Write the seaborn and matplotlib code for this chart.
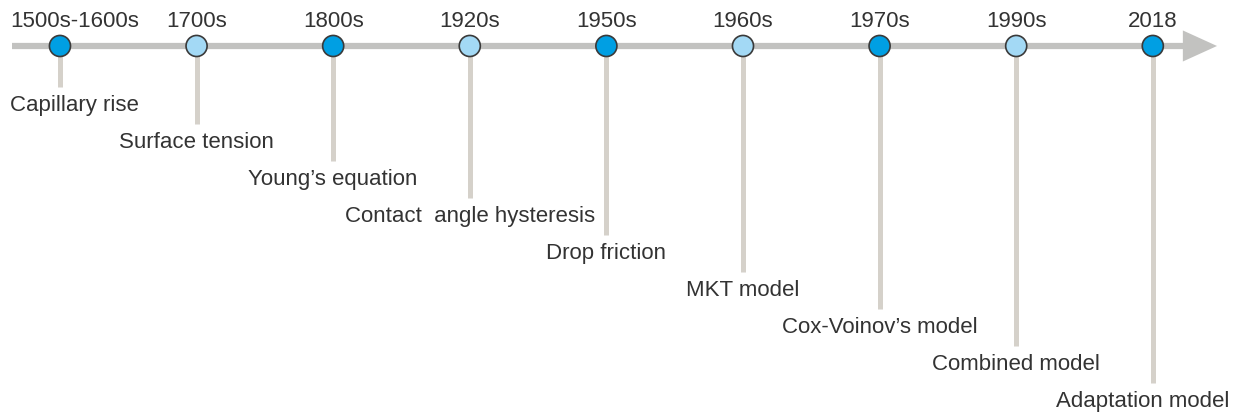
import numpy as np
import pandas as pd
import matplotlib
matplotlib.use("Agg")
import matplotlib.pyplot as plt
import matplotlib.transforms as mtransforms
import seaborn as sns

years = ["1500s-1600s", "1700s", "1800s", "1920s", "1950s",
         "1960s", "1970s", "1990s", "2018"]
events = ["Capillary rise", "Surface tension", "Young\u2019s equation",
          "Contact  angle hysteresis", "Drop friction", "MKT model",
          "Cox-Voinov\u2019s model", "Combined model", "Adaptation model"]
shade = ["dark", "light", "dark", "light", "dark", "light", "dark", "light", "dark"]

df = pd.DataFrame({"year": years, "event": events, "shade": shade})
df["pos"] = np.arange(len(df))
df["depth"] = df["pos"].astype(float)

sns.set_style("white")
plt.rcParams["font.family"] = ["Liberation Sans", "DejaVu Sans"]

fig = plt.figure(figsize=(12.39, 4.17), dpi=100)
ax = fig.add_axes([0, 0, 1, 1])

line_col = "#c2c2c0"
stem_col = "#d5d1ca"
text_col = "#333333"

# main arrow
ax.plot([-0.35, 8.3], [0, 0], color=line_col, lw=4.5, solid_capstyle="butt", zorder=1)
ax.fill([8.22, 8.47, 8.22], [0.42, 0, -0.42], color=line_col, lw=0, zorder=1)

# stems and labels
texts = []
for _, r in df.iterrows():
    ax.plot([r.pos, r.pos], [0, -(1.11 + r.depth)], color=stem_col, lw=3.6,
            solid_capstyle="butt", zorder=2)
    texts.append(ax.text(r.pos, 0.66, r.year, ha="center", va="center",
                         fontsize=16, color=text_col))
    texts.append(ax.text(r.pos, -(1.6 + r.depth), r.event, ha="center",
                         va="center", fontsize=16, color=text_col))

sns.scatterplot(data=df, x="pos", y=np.zeros(len(df)), hue="shade",
                palette={"dark": "#009fe3", "light": "#a3d9f5"}, s=230,
                edgecolor="#3a3a3a", linewidth=1.2, legend=False, ax=ax, zorder=3)

ax.set_xlim(-0.439, 8.631)
ax.set_ylim(-10.03, 1.243)
ax.axis("off")

# keep labels inside the figure
fig.canvas.draw()
renderer = fig.canvas.get_renderer()
W = fig.bbox.width
margin = 10
for t in texts:
    bb = t.get_window_extent(renderer)
    dx = 0
    if bb.x0 < margin:
        dx = margin - bb.x0
    elif bb.x1 > W - margin:
        dx = (W - margin) - bb.x1
    if dx:
        t.set_transform(mtransforms.offset_copy(t.get_transform(), fig=fig,
                                                x=dx, units="dots"))

fig.savefig("out.png", dpi=100)
plt.close()
